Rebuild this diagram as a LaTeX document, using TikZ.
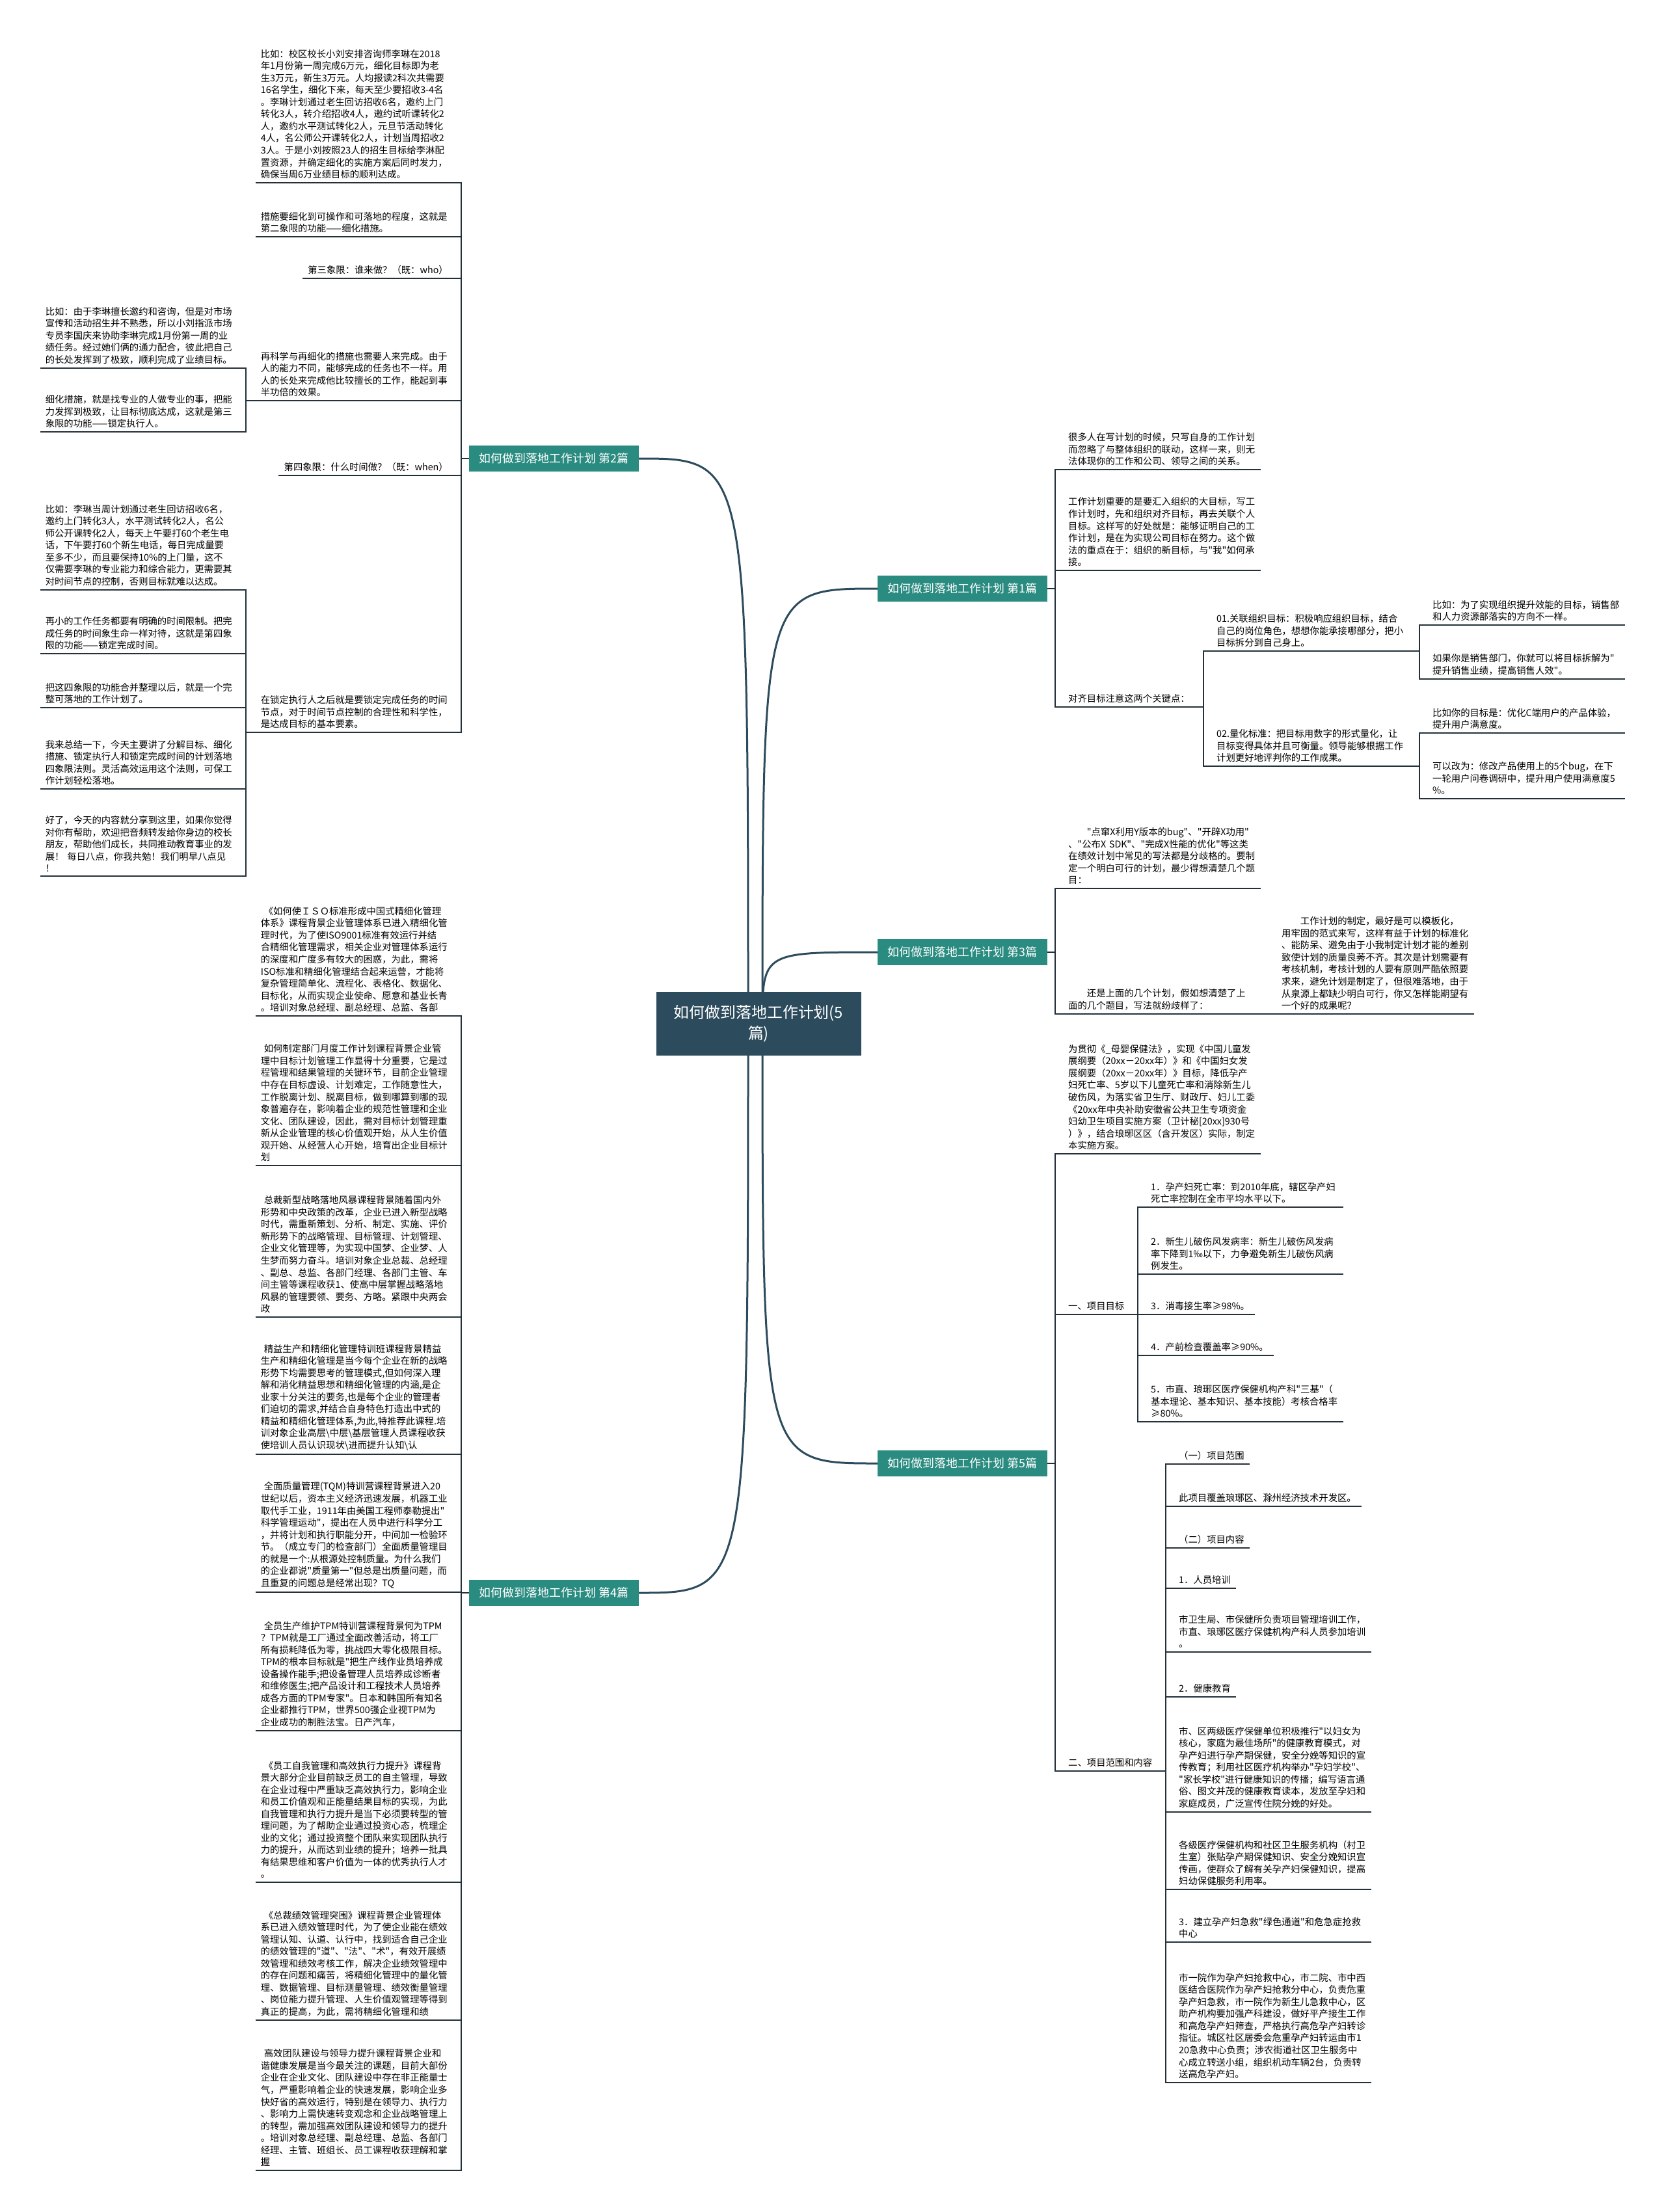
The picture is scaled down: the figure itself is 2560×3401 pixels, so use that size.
\documentclass[tikz,border=0pt]{standalone}
\usepackage{fontspec}
\setmainfont{Noto Sans CJK SC}[Ligatures=TeXOff]
\definecolor{rootfill}{HTML}{2C4B5C}
\definecolor{branchfill}{HTML}{2A8B80}
\definecolor{curvec}{HTML}{2C4B5C}
\definecolor{linec}{HTML}{22303A}
\newcommand\leaffont{\fontsize{14.4}{18.6}\selectfont}
\newcommand\branchfont{\fontsize{18}{22}\selectfont}
\newcommand\rootfont{\fontsize{24}{32}\selectfont}
\tikzset{
  link/.style={draw=linec, line width=2.5bp},
  uline/.style={link},
  leaf/.style={font=\leaffont, align=left, inner xsep=8bp, inner ysep=6bp,
    append after command={(\tikzlastnode.south west) edge[uline] (\tikzlastnode.south east)}},
  lleaf/.style={leaf, anchor=south east},
  rleaf/.style={leaf, anchor=south west},
  wide/.style={text width=288bp},
  branch/.style={fill=branchfill, text=white, font=\branchfont, minimum width=261bp, minimum height=40bp},
  root/.style={fill=rootfill, text=white, font=\rootfont, align=center, minimum width=315bp, minimum height=98bp},
  rlink/.style={link, to path={-| ([xshift=-12bp]\tikztotarget.south west) -- (\tikztotarget.south west)}},
  llink/.style={link, to path={-| ([xshift=12bp]\tikztotarget.south east) -- (\tikztotarget.south east)}},
  curve/.style={draw=curvec, line width=3bp, to path={.. controls (\tikztostart |- \tikztotarget) .. (\tikztotarget)}},
}
\begin{document}
\begin{tikzpicture}[x=1bp, y=-1bp]
    \useasboundingbox (0,0) rectangle (2560,3401);
    \fill[white] (0,0) rectangle (2560,3401);

    % main topic and the five branches
    \coordinate (rc) at (1166,1574);
    \coordinate (rl) at (1150,1574);
    \coordinate (rr) at (1172,1574);
    \node[branch] (b1) at (1479.5,905) {如何做到落地工作计划 第1篇};
    \node[branch] (b3) at (1479.5,1464) {如何做到落地工作计划 第3篇};
    \node[branch] (b5) at (1479.5,2250) {如何做到落地工作计划 第5篇};
    \node[branch] (b2) at (851.5,705) {如何做到落地工作计划 第2篇};
    \node[branch] (b4) at (851.5,2449) {如何做到落地工作计划 第4篇};
    \path (rr) edge[curve] (b1) edge[curve] (b3) edge[curve] (b5);
    \path (rl) edge[curve] (b2) edge[curve] (b4);
    \node[root] (root) at (rc) {如何做到落地工作计划(5\\篇)};

    % 第1篇
    \node[rleaf,wide] (r1) at (1634,722) {很多人在写计划的时候，只写自身的工作计划\\而忽略了与整体组织的联动，这样一来，则无\\法体现你的工作和公司、领导之间的关系。};
    \node[rleaf,wide] (r2) at (1634,877) {工作计划重要的是要汇入组织的大目标，写工\\作计划时，先和组织对齐目标，再去关联个人\\目标。这样写的好处就是：能够证明自己的工\\作计划，是在为实现公司目标在努力。这个做\\法的重点在于：组织的新目标，与"我"如何承\\接。};
    \node[rleaf] (r3) at (1634,1087) {对齐目标注意这两个关键点：};
    \node[rleaf,wide] (r3a) at (1862,1001) {01.关联组织目标：积极响应组织目标，结合\\自己的岗位角色，想想你能承接哪部分，把小\\目标拆分到自己身上。};
    \node[rleaf,wide] (r3b) at (1862,1178) {02.量化标准：把目标用数字的形式量化，让\\目标变得具体并且可衡量。领导能够根据工作\\计划更好地评判你的工作成果。};
    \node[rleaf,wide] (r3a1) at (2194,961) {比如：为了实现组织提升效能的目标，销售部\\和人力资源部落实的方向不一样。};
    \node[rleaf,wide] (r3a2) at (2194,1044) {如果你是销售部门，你就可以将目标拆解为"\\提升销售业绩，提高销售人效"。};
    \node[rleaf,wide] (r3b1) at (2194,1127) {比如你的目标是：优化C端用户的产品体验，\\提升用户满意度。};
    \node[rleaf,wide] (r3b2) at (2194,1228) {可以改为：修改产品使用上的5个bug，在下\\一轮用户问卷调研中，提升用户使用满意度5\\\%。};
    \path (b1.east) edge[rlink] (r1) edge[rlink] (r2) edge[rlink] (r3);
    \path (r3.south east) edge[rlink] (r3a) edge[rlink] (r3b);
    \path (r3a.south east) edge[rlink] (r3a1) edge[rlink] (r3a2);
    \path (r3b.south east) edge[rlink] (r3b1) edge[rlink] (r3b2);

    % 第3篇
    \node[rleaf,wide] (t1) at (1634,1366) {\hspace*{2em}"点窜X利用Y版本的bug"、"开辟X功用"\\、"公布X SDK"、"完成X性能的优化"等这类\\在绩效计划中常见的写法都是分歧格的。要制\\定一个明白可行的计划，最少得想清楚几个题\\目：};
    \node[rleaf,wide] (t2) at (1634,1559) {\hspace*{2em}还是上面的几个计划，假如想清楚了上\\面的几个题目，写法就纷歧样了：};
    \node[rleaf,wide] (t2a) at (1962,1559) {\hspace*{2em}工作计划的制定，最好是可以模板化，\\用牢固的范式来写，这样有益于计划的标准化\\、能防呆、避免由于小我制定计划才能的差别\\致使计划的质量良莠不齐。其次是计划需要有\\考核机制，考核计划的人要有原则严酷依照要\\求来，避免计划是制定了，但很难落地，由于\\从泉源上都缺少明白可行，你又怎样能期望有\\一个好的成果呢？};
    \path (b3.east) edge[rlink] (t1) edge[rlink] (t2);
    \path (t2.south east) edge[rlink] (t2a);

    % 第5篇
    \node[rleaf,wide] (f1) at (1634,1774) {为贯彻《\_母婴保健法》，实现《中国儿童发\\展纲要（20xx－20xx年）》和《中国妇女发\\展纲要（20xx－20xx年）》目标，降低孕产\\妇死亡率、5岁以下儿童死亡率和消除新生儿\\破伤风，为落实省卫生厅、财政厅、妇儿工委\\《20xx年中央补助安徽省公共卫生专项资金\\妇幼卫生项目实施方案（卫计秘[20xx]930号\\）》，结合琅琊区区（含开发区）实际，制定\\本实施方案。};
    \node[rleaf] (f2) at (1634,2021) {一、项目目标};
    \node[rleaf] (f3) at (1634,2723) {二、项目范围和内容};
    \node[rleaf,wide] (f2a) at (1761,1856) {1．孕产妇死亡率：到2010年底，辖区孕产妇\\死亡率控制在全市平均水平以下。};
    \node[rleaf,wide] (f2b) at (1761,1959) {2．新生儿破伤风发病率：新生儿破伤风发病\\率下降到1‰以下，力争避免新生儿破伤风病\\例发生。};
    \node[rleaf] (f2c) at (1761,2021) {3．消毒接生率≥98\%。};
    \node[rleaf] (f2d) at (1761,2084) {4．产前检查覆盖率≥90\%。};
    \node[rleaf,wide] (f2e) at (1761,2186) {5．市直、琅琊区医疗保健机构产科"三基"（\\基本理论、基本知识、基本技能）考核合格率\\≥80\%。};
    \node[rleaf] (f3a) at (1804,2251) {（一）项目范围};
    \node[rleaf] (f3b) at (1804,2316) {此项目覆盖琅琊区、滁州经济技术开发区。};
    \node[rleaf] (f3c) at (1804,2380) {（二）项目内容};
    \node[rleaf] (f3d) at (1804,2442) {1．人员培训};
    \node[rleaf,wide] (f3e) at (1804,2540) {市卫生局、市保健所负责项目管理培训工作，\\市直、琅琊区医疗保健机构产科人员参加培训\\。};
    \node[rleaf] (f3f) at (1804,2609) {2．健康教育};
    \node[rleaf,wide] (f3g) at (1804,2786) {市、区两级医疗保健单位积极推行"以妇女为\\核心，家庭为最佳场所"的健康教育模式，对\\孕产妇进行孕产期保健，安全分娩等知识的宣\\传教育；利用社区医疗机构举办"孕妇学校"、\\"家长学校"进行健康知识的传播；编写语言通\\俗、图文并茂的健康教育读本，发放至孕妇和\\家庭成员，广泛宣传住院分娩的好处。};
    \node[rleaf,wide] (f3h) at (1804,2905) {各级医疗保健机构和社区卫生服务机构（村卫\\生室）张贴孕产期保健知识、安全分娩知识宣\\传画，使群众了解有关孕产妇保健知识，提高\\妇幼保健服务利用率。};
    \node[rleaf,wide] (f3i) at (1804,2986) {3．建立孕产妇急救"绿色通道"和危急症抢救\\中心};
    \node[rleaf,wide] (f3j) at (1804,3202) {市一院作为孕产妇抢救中心，市二院、市中西\\医结合医院作为孕产妇抢救分中心，负责危重\\孕产妇急救，市一院作为新生儿急救中心，区\\助产机构要加强产科建设，做好平产接生工作\\和高危孕产妇筛查，严格执行高危孕产妇转诊\\指征。城区社区居委会危重孕产妇转运由市1\\20急救中心负责；涉农街道社区卫生服务中\\心成立转送小组，组织机动车辆2台，负责转\\送高危孕产妇。};
    \path (b5.east) edge[rlink] (f1) edge[rlink] (f2) edge[rlink] (f3);
    \path (f2.south east) edge[rlink] (f2a) edge[rlink] (f2b) edge[rlink] (f2c)
                          edge[rlink] (f2d) edge[rlink] (f2e);
    \path (f3.south east) edge[rlink] (f3a) edge[rlink] (f3b) edge[rlink] (f3c)
                          edge[rlink] (f3d) edge[rlink] (f3e) edge[rlink] (f3f)
                          edge[rlink] (f3g) edge[rlink] (f3h) edge[rlink] (f3i)
                          edge[rlink] (f3j);

    % 第2篇
    \node[lleaf,wide] (a1) at (697,281) {比如：校区校长小刘安排咨询师李琳在2018\\年1月份第一周完成6万元，细化目标即为老\\生3万元，新生3万元。人均报读2科次共需要\\16名学生，细化下来，每天至少要招收3-4名\\。李琳计划通过老生回访招收6名，邀约上门\\转化3人，转介绍招收4人，邀约试听课转化2\\人，邀约水平测试转化2人，元旦节活动转化\\4人，名公师公开课转化2人，计划当周招收2\\3人。于是小刘按照23人的招生目标给李淋配\\置资源，并确定细化的实施方案后同时发力，\\确保当周6万业绩目标的顺利达成。};
    \node[lleaf,wide] (a2) at (697,364) {措施要细化到可操作和可落地的程度，这就是\\第二象限的功能——细化措施。};
    \node[lleaf] (a3) at (697,428) {第三象限：谁来做？（既：who）};
    \node[lleaf,wide] (a4) at (697,616) {再科学与再细化的措施也需要人来完成。由于\\人的能力不同，能够完成的任务也不一样。用\\人的长处来完成他比较擅长的工作，能起到事\\半功倍的效果。};
    \node[lleaf] (a5) at (697,731) {第四象限：什么时间做？（既：when）};
    \node[lleaf,wide] (a6) at (697,1126) {在锁定执行人之后就是要锁定完成任务的时间\\节点，对于时间节点控制的合理性和科学性，\\是达成目标的基本要素。};
    \node[lleaf,wide] (c1) at (366,566) {比如：由于李琳擅长邀约和咨询，但是对市场\\宣传和活动招生并不熟悉，所以小刘指派市场\\专员李国庆来协助李琳完成1月份第一周的业\\绩任务。经过她们俩的通力配合，彼此把自己\\的长处发挥到了极致，顺利完成了业绩目标。};
    \node[lleaf,wide] (c2) at (366,664) {细化措施，就是找专业的人做专业的事，把能\\力发挥到极致，让目标彻底达成，这就是第三\\象限的功能——锁定执行人。};
    \node[lleaf,wide] (c3) at (366,907) {比如：李琳当周计划通过老生回访招收6名，\\邀约上门转化3人，水平测试转化2人，名公\\师公开课转化2人，每天上午要打60个老生电\\话，下午要打60个新生电话，每日完成量要\\至多不少，而且要保持10\%的上门量，这不\\仅需要李琳的专业能力和综合能力，更需要其\\对时间节点的控制，否则目标就难以达成。};
    \node[lleaf,wide] (c4) at (366,1005) {再小的工作任务都要有明确的时间限制。把完\\成任务的时间象生命一样对待，这就是第四象\\限的功能——锁定完成时间。};
    \node[lleaf,wide] (c5) at (366,1088) {把这四象限的功能合并整理以后，就是一个完\\整可落地的工作计划了。};
    \node[lleaf,wide] (c6) at (366,1213) {我来总结一下，今天主要讲了分解目标、细化\\措施、锁定执行人和锁定完成时间的计划落地\\四象限法则。灵活高效运用这个法则，可保工\\作计划轻松落地。};
    \node[lleaf,wide] (c7) at (366,1347) {好了，今天的内容就分享到这里，如果你觉得\\对你有帮助，欢迎把音频转发给你身边的校长\\朋友，帮助他们成长，共同推动教育事业的发\\展！ 每日八点，你我共勉！我们明早八点见\\！};
    \path (b2.west) edge[llink] (a1) edge[llink] (a2) edge[llink] (a3)
                    edge[llink] (a4) edge[llink] (a5) edge[llink] (a6);
    \path (a4.south west) edge[llink] (c1) edge[llink] (c2);
    \path (a6.south west) edge[llink] (c3) edge[llink] (c4) edge[llink] (c5)
                          edge[llink] (c6) edge[llink] (c7);

    % 第4篇
    \node[lleaf,wide] (d1) at (697,1562) {\hspace*{5bp}《如何使ＩＳＯ标准形成中国式精细化管理\\体系》课程背景企业管理体系已进入精细化管\\理时代，为了使ISO9001标准有效运行并结\\合精细化管理需求，相关企业对管理体系运行\\的深度和广度多有较大的困惑，为此，需将\\ISO标准和精细化管理结合起来运营，才能将\\复杂管理简单化、流程化、表格化、数据化、\\目标化，从而实现企业使命、愿意和基业长青\\。培训对象总经理、副总经理、总监、各部};
    \node[lleaf,wide] (d2) at (697,1792) {\hspace*{5bp}如何制定部门月度工作计划课程背景企业管\\理中目标计划管理工作显得十分重要，它是过\\程管理和结果管理的关键环节，目前企业管理\\中存在目标虚设、计划难定，工作随意性大，\\工作脱离计划、脱离目标，做到哪算到哪的现\\象普遍存在，影响着企业的规范性管理和企业\\文化、团队建设，因此，需对目标计划管理重\\新从企业管理的核心价值观开始，从人生价值\\观开始、从经营人心开始，培育出企业目标计\\划};
    \node[lleaf,wide] (d3) at (697,2025) {\hspace*{5bp}总裁新型战略落地风暴课程背景随着国内外\\形势和中央政策的改革，企业已进入新型战略\\时代，需重新策划、分析、制定、实施、评价\\新形势下的战略管理、目标管理、计划管理、\\企业文化管理等，为实现中国梦、企业梦、人\\生梦而努力奋斗。培训对象企业总裁、总经理\\、副总、总监、各部门经理、各部门主管、车\\间主管等课程收获1、使高中层掌握战略落地\\风暴的管理要领、要务、方略。紧跟中央两会\\政};
    \node[lleaf,wide] (d4) at (697,2236) {\hspace*{5bp}精益生产和精细化管理特训班课程背景精益\\生产和精细化管理是当今每个企业在新的战略\\形势下均需要思考的管理模式,但如何深入理\\解和消化精益思想和精细化管理的内涵,是企\\业家十分关注的要务,也是每个企业的管理者\\们迫切的需求,并结合自身特色打造出中式的\\精益和精细化管理体系,为此,特推荐此课程.培\\训对象企业高层\textbackslash{}中层\textbackslash{}基层管理人员课程收获\\使培训人员认识现状\textbackslash{}进而提升认知\textbackslash{}认};
    \node[lleaf,wide] (d5) at (697,2448) {\hspace*{5bp}全面质量管理(TQM)特训营课程背景进入20\\世纪以后，资本主义经济迅速发展，机器工业\\取代手工业，1911年由美国工程师泰勒提出"\\科学管理运动"，提出在人员中进行科学分工\\，并将计划和执行职能分开，中间加一检验环\\节。（成立专门的检查部门）全面质量管理目\\的就是一个:从根源处控制质量。为什么我们\\的企业都说"质量第一"但总是出质量问题，而\\且重复的问题总是经常出现？TQ};
    \node[lleaf,wide] (d6) at (697,2661) {\hspace*{5bp}全员生产维护TPM特训营课程背景何为TPM\\？TPM就是工厂通过全面改善活动，将工厂\\所有损耗降低为零，挑战四大零化极限目标。\\TPM的根本目标就是"把生产线作业员培养成\\设备操作能手;把设备管理人员培养成诊断者\\和维修医生;把产品设计和工程技术人员培养\\成各方面的TPM专家"。日本和韩国所有知名\\企业都推行TPM，世界500强企业视TPM为\\企业成功的制胜法宝。日产汽车，};
    \node[lleaf,wide] (d7) at (697,2894) {\hspace*{5bp}《员工自我管理和高效执行力提升》课程背\\景大部分企业目前缺乏员工的自主管理，导致\\在企业过程中严重缺乏高效执行力，影响企业\\和员工价值观和正能量结果目标的实现，为此\\自我管理和执行力提升是当下必须要转型的管\\理问题，为了帮助企业通过投资心态，梳理企\\业的文化；通过投资整个团队来实现团队执行\\力的提升，从而达到业绩的提升；培养一批具\\有结果思维和客户价值为一体的优秀执行人才\\。};
    \node[lleaf,wide] (d8) at (697,3106) {\hspace*{5bp}《总裁绩效管理突围》课程背景企业管理体\\系已进入绩效管理时代，为了使企业能在绩效\\管理认知、认道、认行中，找到适合自己企业\\的绩效管理的"道"、"法"、"术"，有效开展绩\\效管理和绩效考核工作，解决企业绩效管理中\\的存在问题和痛苦，将精细化管理中的量化管\\理、数据管理、目标测量管理、绩效衡量管理\\、岗位能力提升管理、人生价值观管理等得到\\真正的提高，为此，需将精细化管理和绩};
    \node[lleaf,wide] (d9) at (697,3337) {\hspace*{5bp}高效团队建设与领导力提升课程背景企业和\\谐健康发展是当今最关注的课题，目前大部份\\企业在企业文化、团队建设中存在非正能量士\\气，严重影响着企业的快速发展，影响企业多\\快好省的高效运行，特别是在领导力、执行力\\、影响力上需快速转变观念和企业战略管理上\\的转型，需加强高效团队建设和领导力的提升\\。培训对象总经理、副总经理、总监、各部门\\经理、主管、班组长、员工课程收获理解和掌\\握};
    \path (b4.west) edge[llink] (d1) edge[llink] (d2) edge[llink] (d3)
                    edge[llink] (d4) edge[llink] (d5) edge[llink] (d6)
                    edge[llink] (d7) edge[llink] (d8) edge[llink] (d9);
\end{tikzpicture}
\end{document}
